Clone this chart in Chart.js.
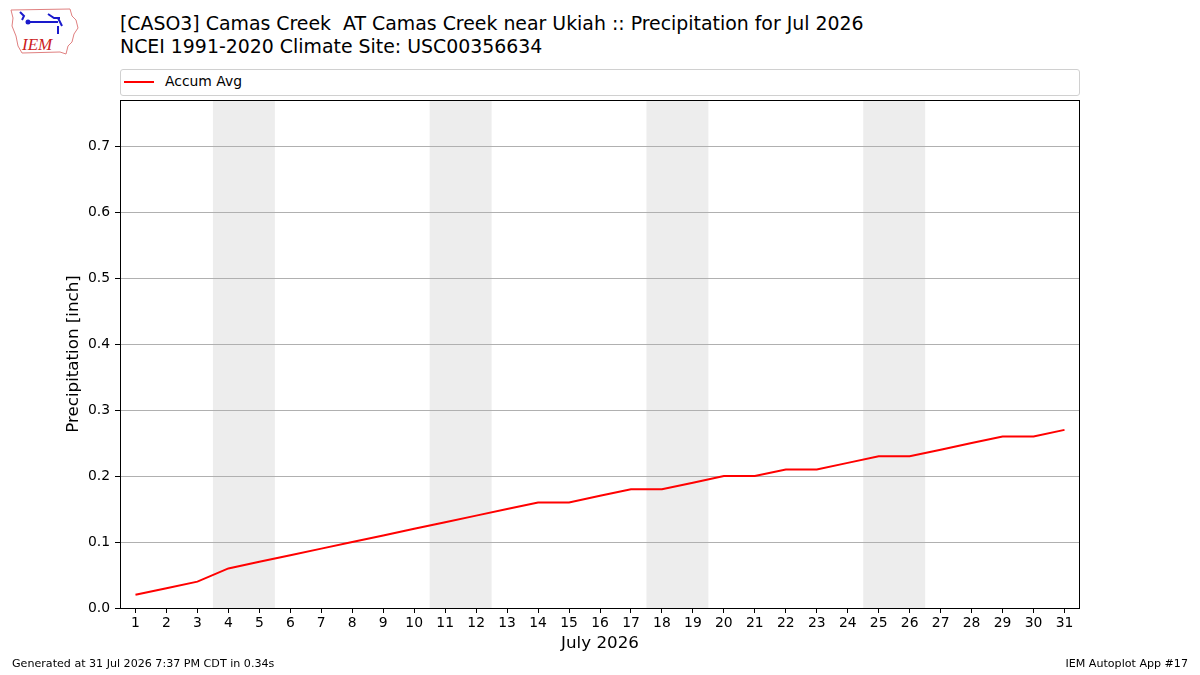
<!DOCTYPE html>
<html>
<head>
<meta charset="utf-8">
<script src="https://cdn.jsdelivr.net/npm/chart.js@4.4.1/dist/chart.umd.min.js"></script>
<style>
  html, body { margin:0; padding:0; background:#fff; }
  body { width:1200px; height:675px; position:relative; overflow:hidden; font-family:"DejaVu Sans", sans-serif; color:#000; }
  #wrap { position:absolute; left:0; top:0; width:1200px; height:675px; }
  .title { position:absolute; left:120px; font-size:18.9px; line-height:23px; white-space:nowrap; }
  #legend { position:absolute; left:120px; top:69px; width:958px; height:25px; border:1px solid #d0d0d0; border-radius:3px; background:#fff; font-size:13.9px; }
  #legend .sw { position:absolute; left:3px; top:11px; width:30px; height:2px; background:#ff0000; }
  #legend .tx { position:absolute; left:44px; top:3px; }
  .foot { position:absolute; top:657px; font-size:11.1px; white-space:nowrap; }
  #logo { position:absolute; left:8px; top:6px; }
</style>
</head>
<body>
<svg id="logo" width="72" height="52" viewBox="0 0 72 52">
  <path d="M3,4 L62,3 L64,10 L68,14 L70,22 L66,28 L64,36 L60,40 L58,48 L52,46 L14,47 L10,40 L8,30 L4,20 L5,12 Z" fill="#fff" stroke="#e08080" stroke-width="1"/>
  <path d="M12,6 L16,10 L14,14 M20,16 L50,16 M50,12 L54,20 M40,8 L46,12 L52,12 M50,20 L50,28" stroke="#1a1acc" stroke-width="2" fill="none"/>
  <circle cx="20" cy="16" r="2.5" fill="#1a1acc"/>
  <text x="14" y="44" font-family="Liberation Serif, serif" font-style="italic" font-size="17" fill="#cc2020">IEM</text>
</svg>
<div class="title" style="top:12px">[CASO3] Camas Creek&nbsp; AT Camas Creek near Ukiah :: Precipitation for Jul 2026</div>
<div class="title" style="top:35px">NCEI 1991-2020 Climate Site: USC00356634</div>
<div id="wrap"><canvas id="c" width="1200" height="675"></canvas></div>
<div id="legend"><span class="sw"></span><span class="tx">Accum Avg</span></div>
<div class="foot" style="left:12px">Generated at 31 Jul 2026 7:37 PM CDT in 0.34s</div>
<div class="foot" style="right:12px">IEM Autoplot App #17</div>
<script>
const days = Array.from({length:31}, (_, i) => i + 1);
const accumAvg = [0.02,0.03,0.04,0.06,0.07,0.08,0.09,0.10,0.11,0.12,
                  0.13,0.14,0.15,0.16,0.16,0.17,0.18,0.18,0.19,0.20,
                  0.20,0.21,0.21,0.22,0.23,0.23,0.24,0.25,0.26,0.26,0.27];
const weekends = [[4,5],[11,12],[18,19],[25,26]];
const yTicks = [0,0.1,0.2,0.3,0.4,0.5,0.6,0.7];

const bands = {
  id: 'bands',
  beforeDraw(chart) {
    const {ctx, chartArea: a, scales: {x}} = chart;
    ctx.save();
    ctx.fillStyle = '#ededed';
    weekends.forEach(([s, e]) => {
      const x0 = x.getPixelForValue(s - 0.5), x1 = x.getPixelForValue(e + 0.5);
      ctx.fillRect(x0, a.top, x1 - x0, a.bottom - a.top);
    });
    ctx.restore();
  },
  afterDraw(chart) {
    const {ctx, chartArea: a} = chart;
    ctx.save();
    ctx.strokeStyle = '#000';
    ctx.lineWidth = 1;
    ctx.strokeRect(Math.round(a.left) + 0.5, Math.round(a.top) + 0.5, Math.round(a.right - a.left) - 1, Math.round(a.bottom - a.top));
    ctx.restore();
  }
};

new Chart(document.getElementById('c').getContext('2d'), {
  type: 'line',
  data: {
    datasets: [{
      label: 'Accum Avg',
      data: days.map((d, i) => ({x: d, y: accumAvg[i]})),
      borderColor: '#ff0000', borderWidth: 2, pointRadius: 0, fill: false, tension: 0
    }]
  },
  options: {
    responsive: false, animation: false, devicePixelRatio: 1,
    layout: { padding: { left: 0, top: 100, right: 120, bottom: 0 } },
    plugins: { legend: { display: false }, tooltip: { enabled: false } },
    scales: {
      x: {
        type: 'linear', min: 0.5, max: 31.5,
        afterBuildTicks: s => { s.ticks = days.map(v => ({value: v})); },
        afterFit: s => { s.height = 67; },
        grid: { drawOnChartArea: false, tickColor: '#000', tickLength: 5 },
        border: { display: false },
        ticks: { color: '#000', font: { family: 'DejaVu Sans', size: 13.9 }, padding: 2, maxRotation: 0, autoSkip: false },
        title: { display: true, text: 'July 2026', color: '#000', font: { family: 'DejaVu Sans', size: 16.7 }, padding: { top: 0, bottom: 21 } }
      },
      y: {
        min: 0, max: 0.77,
        afterBuildTicks: s => { s.ticks = yTicks.map(v => ({value: v})); },
        afterFit: s => { s.width = 120; },
        grid: { color: ctx => ctx.tick && ctx.tick.value === 0 ? 'rgba(0,0,0,0)' : '#b0b0b0', tickColor: '#000', tickLength: 5, lineWidth: 1 },
        border: { display: false },
        ticks: { color: '#000', font: { family: 'DejaVu Sans', size: 13.9 }, padding: 5, callback: v => v.toFixed(1) },
        title: { display: true, text: 'Precipitation [inch]', color: '#000', font: { family: 'DejaVu Sans', size: 16.7 }, padding: { top: 64, bottom: 0 } }
      }
    }
  },
  plugins: [bands]
});
</script>
</body>
</html>
